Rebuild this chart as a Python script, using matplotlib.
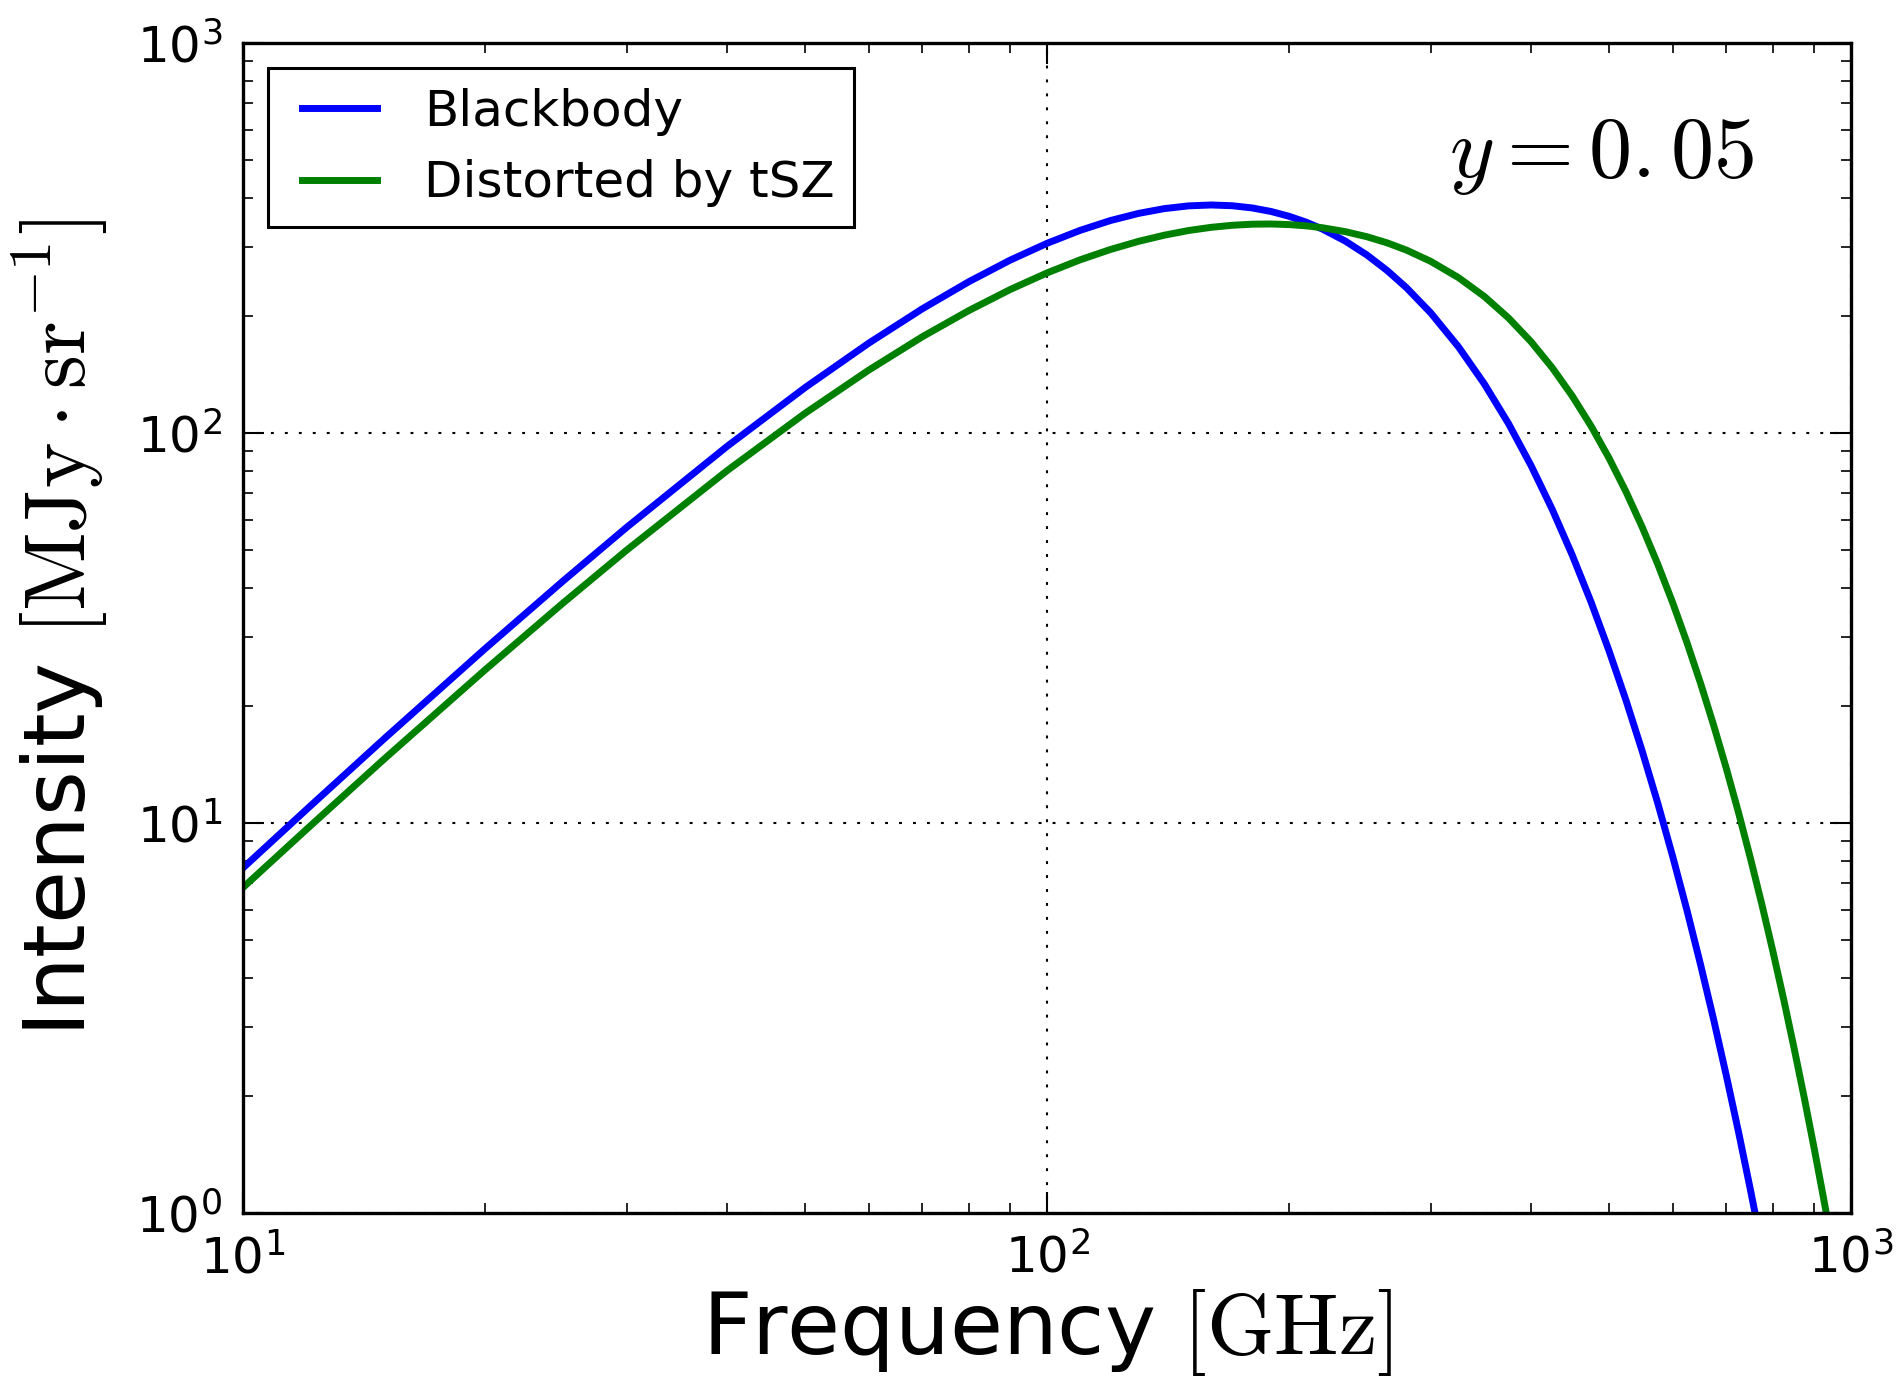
import matplotlib
matplotlib.use('Agg')
import matplotlib.pyplot as plt
from matplotlib.legend_handler import HandlerLine2D

plt.rcParams['mathtext.fontset'] = 'cm'
plt.rcParams['font.family'] = 'DejaVu Sans'

# Частоты (ГГц) и интенсивности (МДж/ср)
freq_ghz = [10, 12, 15, 20, 25, 30, 40, 50, 60, 70, 80, 90, 100, 110, 120,
            130, 140, 150, 160, 170, 180, 190, 200, 210, 220, 235, 250, 265,
            280, 300, 325, 350, 375, 400, 425, 450, 475, 500, 525, 550, 575,
            600, 625, 650, 675, 700, 725, 750, 775, 800, 825, 850, 875, 900,
            925, 950, 975, 1000]

blackbody = [7.67, 10.84, 16.48, 27.98, 41.71, 57.27, 92.40, 130.7, 169.9,
             208.3, 244.5, 277.5, 306.4, 330.9, 350.7, 365.7, 376.2, 382.3,
             384.3, 382.6, 377.6, 369.8, 359.5, 347.3, 333.4, 310.5, 286.0,
             260.8, 235.7, 203.4, 166.2, 133.5, 105.7, 82.51, 63.71, 48.67,
             36.86, 27.67, 20.63, 15.27, 11.24, 8.217, 5.982, 4.331, 3.124,
             2.242, 1.605, 1.143, 0.8127, 0.5753, 0.4064, 0.2861, 0.2010,
             0.1408, 0.0984, 0.0686, 0.0478, 0.0332]

distorted = [6.83, 9.64, 14.62, 24.69, 36.63, 50.06, 80.06, 112.3, 144.9,
             176.6, 206.2, 233.3, 257.3, 278.1, 295.6, 310.1, 321.6, 330.5,
             336.8, 340.9, 343.1, 343.5, 342.3, 339.8, 336.0, 328.3, 318.6,
             307.2, 294.4, 275.6, 250.2, 223.8, 197.2, 171.4, 147.0, 124.5,
             104.2, 86.28, 70.68, 57.33, 46.09, 36.74, 29.05, 22.80, 17.77,
             13.76, 10.59, 8.098, 6.163, 4.665, 3.515, 2.635, 1.968, 1.463,
             1.084, 0.7997, 0.5882, 0.4310]

series_labels = ['Blackbody', 'Distorted by tSZ']
y_param = 0.05

fig = plt.figure(figsize=(18.98, 13.8), dpi=100)
ax = fig.add_axes([243 / 1898, 1 - 1213 / 1380, 1608 / 1898, 1170 / 1380])

ax.plot(freq_ghz, blackbody, color='#0000ff', linewidth=5, label=series_labels[0])
ax.plot(freq_ghz, distorted, color='#008000', linewidth=5, label=series_labels[1])

ax.set_xscale('log')
ax.set_yscale('log')
ax.set_xlim(10, 1000)
ax.set_ylim(1, 1000)

# Сетка только по основным делениям
ax.grid(True, which='major', color='k', linestyle=(0, (1.4, 5.3)), linewidth=1.5)

# Деления внутрь, со всех сторон
ax.tick_params(which='both', direction='in', top=True, right=True,
               labelsize=36, pad=15)
ax.tick_params(which='major', length=15, width=1.5)
ax.tick_params(which='minor', length=7, width=1.2)
for sp in ax.spines.values():
    sp.set_linewidth(2.4)

ax.set_xlabel(r'Frequency $[\mathrm{GHz}]$', fontsize=62, va='bottom')
ax.set_ylabel(r'Intensity $[\mathrm{MJy\cdot sr^{-1}}]$', fontsize=62)
ax.xaxis.set_label_coords(0.5, -0.141)
ax.yaxis.set_label_coords(-0.083, 0.5)

ax.text(0.94, 0.904, r'$y = %s.{}%s$' % tuple(str(y_param).split('.')),
        transform=ax.transAxes, ha='right', va='center', fontsize=62)

leg = ax.legend(loc='upper left', fontsize=36, fancybox=False, framealpha=1,
                edgecolor='k', handlelength=1.78, handletextpad=0.95,
                borderpad=0.39, labelspacing=0.47, borderaxespad=0.5,
                handler_map={plt.Line2D: HandlerLine2D(xpad=0.28)})
leg.get_frame().set_linewidth(2.2)

plt.savefig('out.png', dpi=100)
plt.close()
